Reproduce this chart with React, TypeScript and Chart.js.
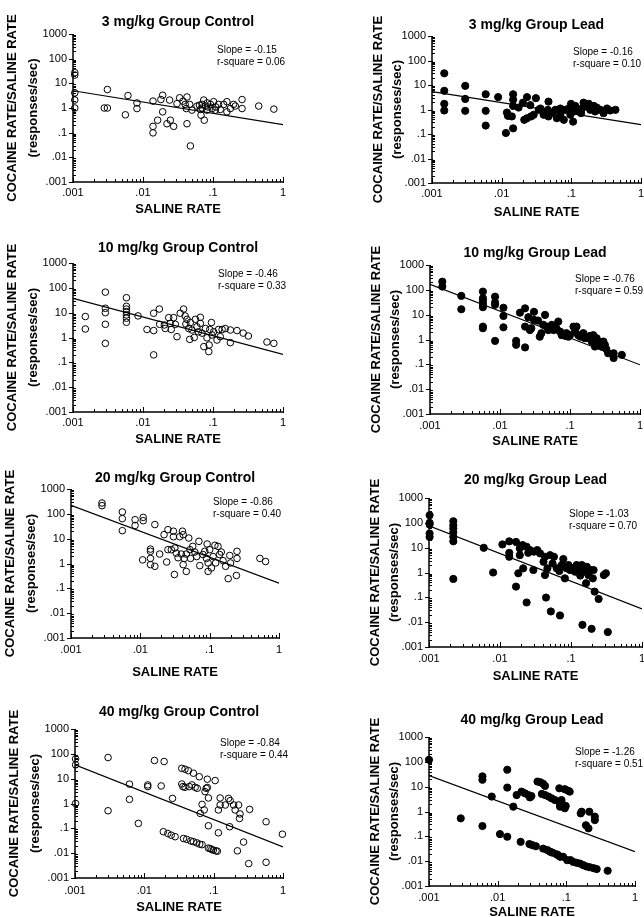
import { useEffect, useRef } from 'react';
import { Chart, registerables } from 'chart.js';

Chart.register(...registerables);

const FONT = "'Liberation Sans', Arial, Helvetica, sans-serif";

// ---------- data ----------
const xTickValues = [0.001, 0.01, 0.1, 1];
const xTickLabels = ['.001', '.01', '.1', '1'];
const yTickValues = [0.001, 0.01, 0.1, 1, 10, 100, 1000];
const yTickLabels = ['.001', '.01', '.1', '1', '10', '100', '1000'];

const panelTitles = [
  '3 mg/kg Group Control', '3 mg/kg Group Lead',
  '10 mg/kg Group Control', '10 mg/kg Group Lead',
  '20 mg/kg Group Control', '20 mg/kg Group Lead',
  '40 mg/kg Group Control', '40 mg/kg Group Lead',
];
const slopes = ['-0.15', '-0.16', '-0.46', '-0.76', '-0.86', '-1.03', '-0.84', '-1.26'];
const rSquares = ['0.06', '0.10', '0.33', '0.59', '0.40', '0.70', '0.44', '0.51'];
// fitted line: [y at x=.001, y at x=1]
const fitLines: [number, number][] = [
  [5.0, 0.21], [5.4, 0.24], [38, 0.21], [166, 0.096],
  [219, 0.16], [76, 0.034], [36, 0.018], [28, 0.024],
];

const control3: [number, number][] = [
  [0.00106, 27], [0.00106, 21.6], [0.00106, 4.1], [0.00106, 2.1], [0.00106, 1.0], [0.0028, 1.0], [0.0031, 1.0],
  [0.0031, 5.6], [0.0056, 0.53], [0.0061, 3.2], [0.0082, 1.6], [0.0082, 0.95], [0.0139, 1.9], [0.0139, 0.18],
  [0.0139, 0.098], [0.0162, 0.32], [0.0191, 3.3], [0.0191, 0.7], [0.018, 2.2], [0.022, 0.23], [0.024, 2.1],
  [0.0246, 0.32], [0.0274, 0.18], [0.0306, 1.5], [0.0334, 2.6], [0.0373, 1.9], [0.04, 1.4], [0.0425, 2.8],
  [0.0415, 0.95], [0.0425, 0.23], [0.0464, 1.4], [0.0475, 0.029], [0.05, 0.82], [0.059, 1.2], [0.066, 0.87],
  [0.0674, 0.51], [0.0697, 1.4], [0.0736, 2.1], [0.075, 0.32], [0.0777, 1.2], [0.082, 0.82], [0.083, 1.6],
  [0.092, 1.4], [0.097, 0.95], [0.102, 1.8], [0.108, 0.82], [0.12, 1.4], [0.127, 0.87], [0.142, 1.4],
  [0.158, 0.7], [0.158, 1.8], [0.177, 0.95], [0.197, 1.4], [0.208, 1.2], [0.26, 2.2], [0.26, 0.95],
  [0.45, 1.2], [0.74, 0.9], [0.07, 1.0], [0.085, 1.1], [0.064, 1.3], [0.11, 1.1],
];
const lead3: [number, number][] = [
  [0.0015, 30], [0.0015, 5.8], [0.0015, 1.7], [0.0015, 0.91], [0.003, 9.2], [0.003, 2.7], [0.003, 0.88],
  [0.0059, 4.2], [0.0059, 0.88], [0.0059, 0.22], [0.0089, 3.2], [0.0115, 0.11], [0.0119, 0.75], [0.0123, 0.55],
  [0.0146, 4.2], [0.0146, 2.5], [0.0146, 1.4], [0.014, 0.52], [0.0146, 0.17], [0.0175, 1.2], [0.0202, 1.9],
  [0.0211, 0.38], [0.0231, 3.2], [0.0231, 0.44], [0.0258, 1.5], [0.0264, 0.52], [0.0288, 0.61], [0.031, 2.9],
  [0.034, 0.97], [0.036, 1.1], [0.04, 0.61], [0.046, 0.97], [0.047, 2.1], [0.047, 0.52], [0.053, 0.71],
  [0.059, 0.97], [0.062, 0.44], [0.0695, 0.61], [0.0695, 1.1], [0.078, 0.38], [0.082, 0.97], [0.092, 1.1],
  [0.097, 0.61], [0.099, 1.7], [0.106, 0.32], [0.108, 0.83], [0.114, 1.4], [0.12, 0.97], [0.138, 0.71],
  [0.142, 1.1], [0.15, 1.9], [0.168, 1.3], [0.178, 1.7], [0.187, 0.97], [0.21, 1.4], [0.22, 0.83],
  [0.232, 1.2], [0.26, 0.97], [0.29, 0.71], [0.325, 1.1], [0.36, 0.91], [0.43, 0.97],
];
const control10: [number, number][] = [
  [0.0015, 7.0], [0.0015, 2.2], [0.0029, 67], [0.0029, 15], [0.0029, 10], [0.0029, 3.4], [0.0029, 0.58],
  [0.0058, 40], [0.0058, 18], [0.0058, 14], [0.0058, 11], [0.0058, 8.1], [0.0058, 6.0], [0.0058, 4.1],
  [0.0085, 7.4], [0.0114, 2.1], [0.0142, 9.5], [0.0142, 1.9], [0.0142, 0.2], [0.0171, 14], [0.0173, 3.4],
  [0.0202, 3.2], [0.0208, 2.3], [0.0233, 6.3], [0.0245, 3.7], [0.0253, 2.1], [0.0274, 6.3], [0.029, 3.4],
  [0.0306, 1.08], [0.034, 9.5], [0.038, 14], [0.04, 7.4], [0.041, 3.5], [0.0425, 5.4], [0.045, 2.3],
  [0.0465, 0.84], [0.0475, 4.0], [0.05, 2.0], [0.054, 1.0], [0.056, 5.4], [0.059, 2.7], [0.062, 1.7],
  [0.066, 6.5], [0.066, 3.7], [0.0697, 1.5], [0.074, 0.43], [0.078, 2.3], [0.082, 0.97], [0.087, 0.27],
  [0.088, 0.5], [0.09, 2.1], [0.095, 4.0], [0.097, 1.26], [0.102, 1.7], [0.114, 0.79], [0.12, 2.1],
  [0.127, 1.08], [0.135, 2.1], [0.15, 2.3], [0.177, 2.0], [0.177, 0.62], [0.22, 1.9], [0.27, 1.5],
  [0.32, 1.15], [0.59, 0.66], [0.74, 0.58],
];
const lead10: [number, number][] = [
  [0.0015, 213], [0.0015, 135], [0.0028, 57], [0.0028, 16.5], [0.0057, 85], [0.0057, 46], [0.0057, 36],
  [0.0057, 27], [0.0057, 20], [0.0057, 3.3], [0.0057, 2.85], [0.0085, 53], [0.0085, 31], [0.0085, 25],
  [0.0085, 0.88], [0.0112, 19], [0.0112, 8.9], [0.0112, 3.1], [0.017, 0.88], [0.017, 0.61], [0.0193, 12],
  [0.0228, 18], [0.0228, 3.3], [0.0228, 0.48], [0.0254, 7.9], [0.0268, 2.4], [0.028, 2.85], [0.0306, 13],
  [0.0306, 6.2], [0.035, 5.8], [0.037, 1.3], [0.039, 1.8], [0.0415, 3.9], [0.044, 9.8], [0.0464, 3.3],
  [0.049, 2.4], [0.052, 2.85], [0.055, 3.9], [0.058, 2.4], [0.064, 2.85], [0.068, 5.3], [0.072, 2.1],
  [0.076, 1.5], [0.08, 1.7], [0.085, 1.4], [0.089, 1.8], [0.095, 1.3], [0.1, 1.5], [0.112, 3.3],
  [0.118, 2.1], [0.124, 3.3], [0.131, 1.5], [0.141, 1.3], [0.155, 1.8], [0.163, 1.13], [0.183, 1.13],
  [0.193, 1.4], [0.204, 0.83], [0.215, 1.5], [0.227, 0.52], [0.24, 1.13], [0.254, 0.83], [0.268, 0.67],
  [0.28, 0.52], [0.3, 0.83], [0.315, 0.61], [0.33, 0.41], [0.35, 0.28], [0.42, 0.28], [0.42, 0.18],
  [0.55, 0.24],
];
const control20: [number, number][] = [
  [0.0028, 273], [0.0028, 213], [0.0055, 119], [0.0055, 64], [0.0055, 21], [0.0084, 58], [0.0084, 34],
  [0.011, 72], [0.011, 53], [0.0108, 1.4], [0.014, 3.8], [0.014, 3.1], [0.014, 1.6], [0.014, 0.9],
  [0.0162, 37], [0.0162, 0.77], [0.019, 2.4], [0.022, 14.5], [0.024, 1.15], [0.025, 23], [0.025, 3.6],
  [0.028, 3.6], [0.03, 20], [0.03, 12], [0.031, 0.36], [0.0315, 4.2], [0.033, 2.6], [0.035, 1.7],
  [0.037, 12], [0.039, 2.4], [0.0405, 20], [0.0415, 14.5], [0.0415, 0.9], [0.043, 1.6], [0.046, 0.48],
  [0.046, 2.4], [0.05, 10.6], [0.052, 3.6], [0.053, 1.6], [0.057, 4.9], [0.061, 2.9], [0.065, 1.9],
  [0.07, 7.8], [0.072, 0.82], [0.08, 2.3], [0.085, 3.1], [0.09, 1.6], [0.092, 6.1], [0.095, 1.05],
  [0.095, 0.48], [0.1, 3.6], [0.106, 0.66], [0.112, 1.9], [0.119, 5.4], [0.122, 1.05], [0.132, 4.9],
  [0.139, 2.3], [0.147, 2.9], [0.156, 1.3], [0.17, 0.77], [0.185, 0.245], [0.195, 2.1], [0.2, 1.05],
  [0.243, 0.33], [0.248, 3.1], [0.248, 1.6], [0.53, 1.6], [0.64, 1.2],
];
const lead20: [number, number][] = [
  [0.00102, 202], [0.00102, 100], [0.00102, 85], [0.00102, 37], [0.00102, 27], [0.0022, 116], [0.0022, 80],
  [0.0022, 59], [0.0022, 41], [0.0022, 27], [0.0022, 18], [0.0022, 0.55], [0.0059, 9.9], [0.008, 1.0],
  [0.0108, 13.5], [0.0135, 18], [0.0135, 6.2], [0.0135, 4.3], [0.0168, 17], [0.0168, 0.27], [0.0181, 0.93],
  [0.019, 9.3], [0.019, 5.0], [0.0208, 12.7], [0.0212, 1.47], [0.0237, 10.9], [0.0237, 0.062], [0.025, 6.2],
  [0.0264, 8.0], [0.0295, 1.26], [0.03, 6.9], [0.0335, 8.0], [0.0366, 5.9], [0.041, 2.7], [0.043, 4.3],
  [0.043, 0.79], [0.0445, 0.098], [0.0465, 1.47], [0.0508, 5.0], [0.052, 0.027], [0.055, 2.3], [0.0575, 4.3],
  [0.063, 1.47], [0.0685, 1.15], [0.07, 0.0186], [0.074, 2.0], [0.078, 3.5], [0.082, 0.58], [0.087, 1.47],
  [0.092, 2.0], [0.097, 1.26], [0.102, 1.47], [0.108, 1.47], [0.114, 1.08], [0.12, 2.0], [0.127, 1.26],
  [0.135, 0.75], [0.142, 2.0], [0.145, 0.0078], [0.15, 1.08], [0.158, 1.26], [0.163, 0.37], [0.167, 1.7],
  [0.176, 0.79], [0.186, 1.26], [0.195, 0.0054], [0.203, 0.58], [0.208, 1.26], [0.215, 0.17], [0.245, 0.086],
  [0.29, 0.79], [0.31, 0.93], [0.33, 0.004],
];
const control40: [number, number][] = [
  [0.00102, 63], [0.00102, 36], [0.00102, 1.0], [0.003, 71], [0.003, 0.51], [0.0061, 6.0], [0.0061, 1.47],
  [0.0082, 0.158], [0.0112, 5.6], [0.0112, 4.8], [0.014, 54], [0.0175, 5.1], [0.0193, 49], [0.0255, 1.6],
  [0.0188, 0.073], [0.0218, 0.062], [0.0244, 0.053], [0.0278, 0.046], [0.0347, 26], [0.0347, 6.1], [0.036, 4.8],
  [0.0367, 0.039], [0.0386, 24], [0.0386, 4.5], [0.0408, 0.036], [0.0432, 21], [0.0445, 4.8], [0.0468, 0.031],
  [0.0485, 5.6], [0.051, 16.6], [0.051, 0.029], [0.054, 4.5], [0.057, 0.026], [0.058, 4.1], [0.062, 12],
  [0.063, 0.023], [0.064, 0.4], [0.068, 0.92], [0.068, 0.022], [0.073, 0.55], [0.075, 3.0], [0.078, 4.1],
  [0.081, 9.5], [0.081, 4.4], [0.084, 1.67], [0.084, 0.127], [0.084, 0.016], [0.089, 0.0152], [0.094, 0.0141],
  [0.099, 0.0133], [0.105, 8.4], [0.108, 0.0124], [0.113, 0.012], [0.117, 0.55], [0.117, 0.066], [0.124, 1.67],
  [0.124, 0.87], [0.147, 0.87], [0.17, 0.116], [0.164, 1.6], [0.173, 1.3], [0.194, 0.87], [0.204, 0.55],
  [0.229, 0.87], [0.236, 0.25], [0.24, 0.38], [0.22, 0.0124], [0.27, 0.028], [0.32, 0.0038], [0.33, 0.58],
  [0.57, 0.184], [0.57, 0.0043], [0.98, 0.058],
];
const lead40: [number, number][] = [
  [0.001, 121], [0.0029, 0.53], [0.006, 26], [0.006, 19], [0.006, 0.26], [0.0082, 4.0], [0.0108, 0.123],
  [0.0138, 0.096], [0.0138, 48], [0.0138, 9.2], [0.0169, 1.57], [0.0189, 4.6], [0.0216, 0.06], [0.0223, 6.3],
  [0.025, 5.4], [0.028, 4.6], [0.0295, 3.7], [0.031, 4.2], [0.029, 0.049], [0.032, 0.044], [0.036, 0.04],
  [0.038, 16], [0.042, 15], [0.044, 5.1], [0.046, 13], [0.049, 10.7], [0.046, 0.032], [0.049, 4.6],
  [0.053, 0.028], [0.055, 4.0], [0.058, 0.024], [0.061, 3.4], [0.063, 0.022], [0.068, 2.9], [0.072, 0.019],
  [0.076, 0.0175], [0.081, 2.0], [0.081, 0.015], [0.085, 2.9], [0.09, 0.015], [0.079, 8.6], [0.081, 1.57],
  [0.09, 1.83], [0.095, 7.9], [0.095, 1.35], [0.106, 6.9], [0.112, 6.3], [0.098, 1.67], [0.103, 0.011],
  [0.115, 0.011], [0.126, 0.0093], [0.141, 0.0086], [0.158, 0.008], [0.162, 0.84], [0.167, 0.98],
  [0.177, 0.0069], [0.193, 0.28], [0.21, 0.21], [0.197, 0.0061], [0.216, 0.98], [0.22, 0.0057],
  [0.25, 0.0052], [0.26, 0.62], [0.26, 0.45], [0.277, 0.0048], [0.4, 0.0041],
];

const panelData = [control3, lead3, control10, lead10, control20, lead20, control40, lead40];

// ---------- layout (page pixels of each plot area) ----------
type Layout = {
  L: number; T: number; R: number; B: number; col: 0 | 1;
  titleDy: number; statDx: number; statDy: number; xTitleD: number; xTickD: number;
};
const layouts: Layout[] = [
  { L: 73, T: 34, R: 283, B: 182, col: 0, titleDy: -12, statDx: 144, statDy: 16, xTitleD: 27, xTickD: 11 },
  { L: 432, T: 36, R: 641, B: 183, col: 1, titleDy: -11, statDx: 141, statDy: 16, xTitleD: 29, xTickD: 11 },
  { L: 73, T: 263, R: 283, B: 412, col: 0, titleDy: -15, statDx: 145, statDy: 11, xTitleD: 27, xTickD: 11 },
  { L: 430, T: 265, R: 640, B: 414, col: 1, titleDy: -12, statDx: 145, statDy: 14, xTitleD: 27, xTickD: 12 },
  { L: 71, T: 489, R: 279, B: 638, col: 0, titleDy: -11, statDx: 142, statDy: 13, xTitleD: 34, xTickD: 12 },
  { L: 429, T: 498, R: 642, B: 647, col: 1, titleDy: -18, statDx: 140, statDy: 16, xTitleD: 29, xTickD: 12 },
  { L: 75, T: 729, R: 283, B: 878, col: 0, titleDy: -17, statDx: 145, statDy: 14, xTitleD: 29, xTickD: 13 },
  { L: 429, T: 737, R: 635, B: 886, col: 1, titleDy: -17, statDx: 146, statDy: 15, xTitleD: 26, xTickD: 12 },
];

const Y_AXIS_W = 80;
const X_AXIS_H = 45;
const PAD_TOP = 40;
const PAD_RIGHT = 10;

function Panel({ index }: { index: number }) {
  const ref = useRef<HTMLCanvasElement>(null);
  const lay = layouts[index];
  const filled = index % 2 === 1;
  const w = Y_AXIS_W + (lay.R - lay.L) + PAD_RIGHT;
  const h = PAD_TOP + (lay.B - lay.T) + X_AXIS_H;

  useEffect(() => {
    const canvas = ref.current!;
    const title = panelTitles[index];
    const slope = slopes[index];
    const r2 = rSquares[index];
    const [fitA, fitB] = fitLines[index];
    const yLineH = lay.col === 0 ? 21 : 19.5;
    const yTitlePad = lay.col === 0 ? 8.5 : 16.25;

    const decor = {
      id: 'decor',
      beforeDatasetsDraw(chart: any) {
        const { ctx, chartArea: a, scales } = chart;
        const xs = scales.x;
        const ys = scales.y;
        ctx.save();
        ctx.strokeStyle = '#000';
        ctx.lineWidth = 1.5;
        ctx.beginPath();
        ctx.moveTo(a.left, a.top);
        ctx.lineTo(a.left, a.bottom);
        ctx.lineTo(a.right, a.bottom);
        ctx.stroke();
        ctx.lineWidth = 1;
        ctx.beginPath();
        for (let e = -3; e <= 0; e++) {
          const base = Math.pow(10, e);
          const px = Math.round(xs.getPixelForValue(base)) + 0.5;
          ctx.moveTo(px, a.bottom + 1);
          ctx.lineTo(px, a.bottom - 5);
          if (e < 0) {
            for (let k = 2; k <= 9; k++) {
              const mx = Math.round(xs.getPixelForValue(k * base)) + 0.5;
              ctx.moveTo(mx, a.bottom);
              ctx.lineTo(mx, a.bottom - 3);
            }
          }
        }
        for (let e = -3; e <= 3; e++) {
          const base = Math.pow(10, e);
          const py = Math.round(ys.getPixelForValue(base)) + 0.5;
          ctx.moveTo(a.left - 4, py);
          ctx.lineTo(a.left + 1, py);
          if (e < 3) {
            for (let k = 2; k <= 9; k++) {
              const my = Math.round(ys.getPixelForValue(k * base)) + 0.5;
              ctx.moveTo(a.left, my);
              ctx.lineTo(a.left + 3, my);
            }
          }
        }
        ctx.stroke();
        ctx.restore();
      },
      afterDraw(chart: any) {
        const { ctx, chartArea: a } = chart;
        ctx.save();
        ctx.fillStyle = '#000';
        ctx.textBaseline = 'middle';
        ctx.textAlign = 'center';
        ctx.font = `bold 14px ${FONT}`;
        ctx.fillText(title, (a.left + a.right) / 2, a.top + lay.titleDy);
        ctx.textAlign = 'left';
        ctx.font = `10px ${FONT}`;
        ctx.fillText(`Slope = ${slope}`, a.left + lay.statDx, a.top + lay.statDy);
        ctx.fillText(`r-square = ${r2}`, a.left + lay.statDx, a.top + lay.statDy + 12);
        ctx.restore();
      },
    };

    const chart = new Chart(canvas, {
      type: 'scatter',
      data: {
        datasets: [
          {
            data: panelData[index].map(([x, y]) => ({ x, y })),
            pointRadius: filled ? 3.6 : 3.3,
            pointBorderWidth: 1,
            borderColor: '#000',
            backgroundColor: filled ? '#000' : 'rgba(0,0,0,0)',
            pointBackgroundColor: filled ? '#000' : 'rgba(0,0,0,0)',
            pointBorderColor: '#000',
            clip: false,
          } as any,
          {
            data: [{ x: 0.001, y: fitA }, { x: 1, y: fitB }],
            showLine: true,
            borderColor: '#000',
            borderWidth: 1.2,
            pointRadius: 0,
          } as any,
        ],
      },
      options: {
        responsive: false,
        animation: false,
        events: [],
        layout: { padding: { top: PAD_TOP, right: PAD_RIGHT, left: 0, bottom: 0 } },
        plugins: { legend: { display: false }, tooltip: { enabled: false }, title: { display: false } },
        scales: {
          x: {
            type: 'logarithmic',
            position: 'bottom',
            min: 0.001,
            max: 1,
            grid: { display: false, drawTicks: false, tickLength: 0 },
            border: { display: false },
            afterBuildTicks: (s: any) => { s.ticks = xTickValues.map((value) => ({ value })); },
            afterFit: (s: any) => { s.height = X_AXIS_H; },
            ticks: {
              autoSkip: false,
              maxRotation: 0,
              color: '#000',
              padding: lay.xTickD - 6.6,
              font: { family: FONT, size: 11 },
              callback: (_v: any, i: number) => xTickLabels[i],
            },
            title: {
              display: true,
              text: 'SALINE RATE',
              color: '#000',
              font: { family: FONT, size: 13, weight: 'bold' },
              padding: { top: 0, bottom: X_AXIS_H - lay.xTitleD - 7.8 },
            },
          } as any,
          y: {
            type: 'logarithmic',
            position: 'left',
            min: 0.001,
            max: 1000,
            grid: { display: false, drawTicks: false, tickLength: 0 },
            border: { display: false },
            afterBuildTicks: (s: any) => { s.ticks = yTickValues.map((value) => ({ value })); },
            afterFit: (s: any) => { s.width = Y_AXIS_W; },
            ticks: {
              autoSkip: false,
              color: '#000',
              padding: 6,
              font: { family: FONT, size: 11 },
              callback: (_v: any, i: number) => yTickLabels[i],
            },
            title: {
              display: true,
              text: ['COCAINE RATE/SALINE RATE', '(responses/sec)'],
              color: '#000',
              font: { family: FONT, size: 13, weight: 'bold', lineHeight: yLineH / 13 },
              padding: { top: yTitlePad, bottom: 0 },
            },
          } as any,
        },
      },
      plugins: [decor],
    });
    return () => chart.destroy();
  }, [index]);

  return (
    <canvas
      ref={ref}
      width={w}
      height={h}
      style={{
        position: 'absolute',
        left: lay.L - Y_AXIS_W,
        top: lay.T - PAD_TOP,
        width: w,
        height: h,
      }}
    />
  );
}

export default function App() {
  return (
    <div
      style={{
        position: 'absolute',
        left: 0,
        top: 0,
        width: 644,
        height: 917,
        overflow: 'hidden',
        background: '#fff',
      }}
    >
      {layouts.map((_, i) => (
        <Panel key={i} index={i} />
      ))}
    </div>
  );
}
